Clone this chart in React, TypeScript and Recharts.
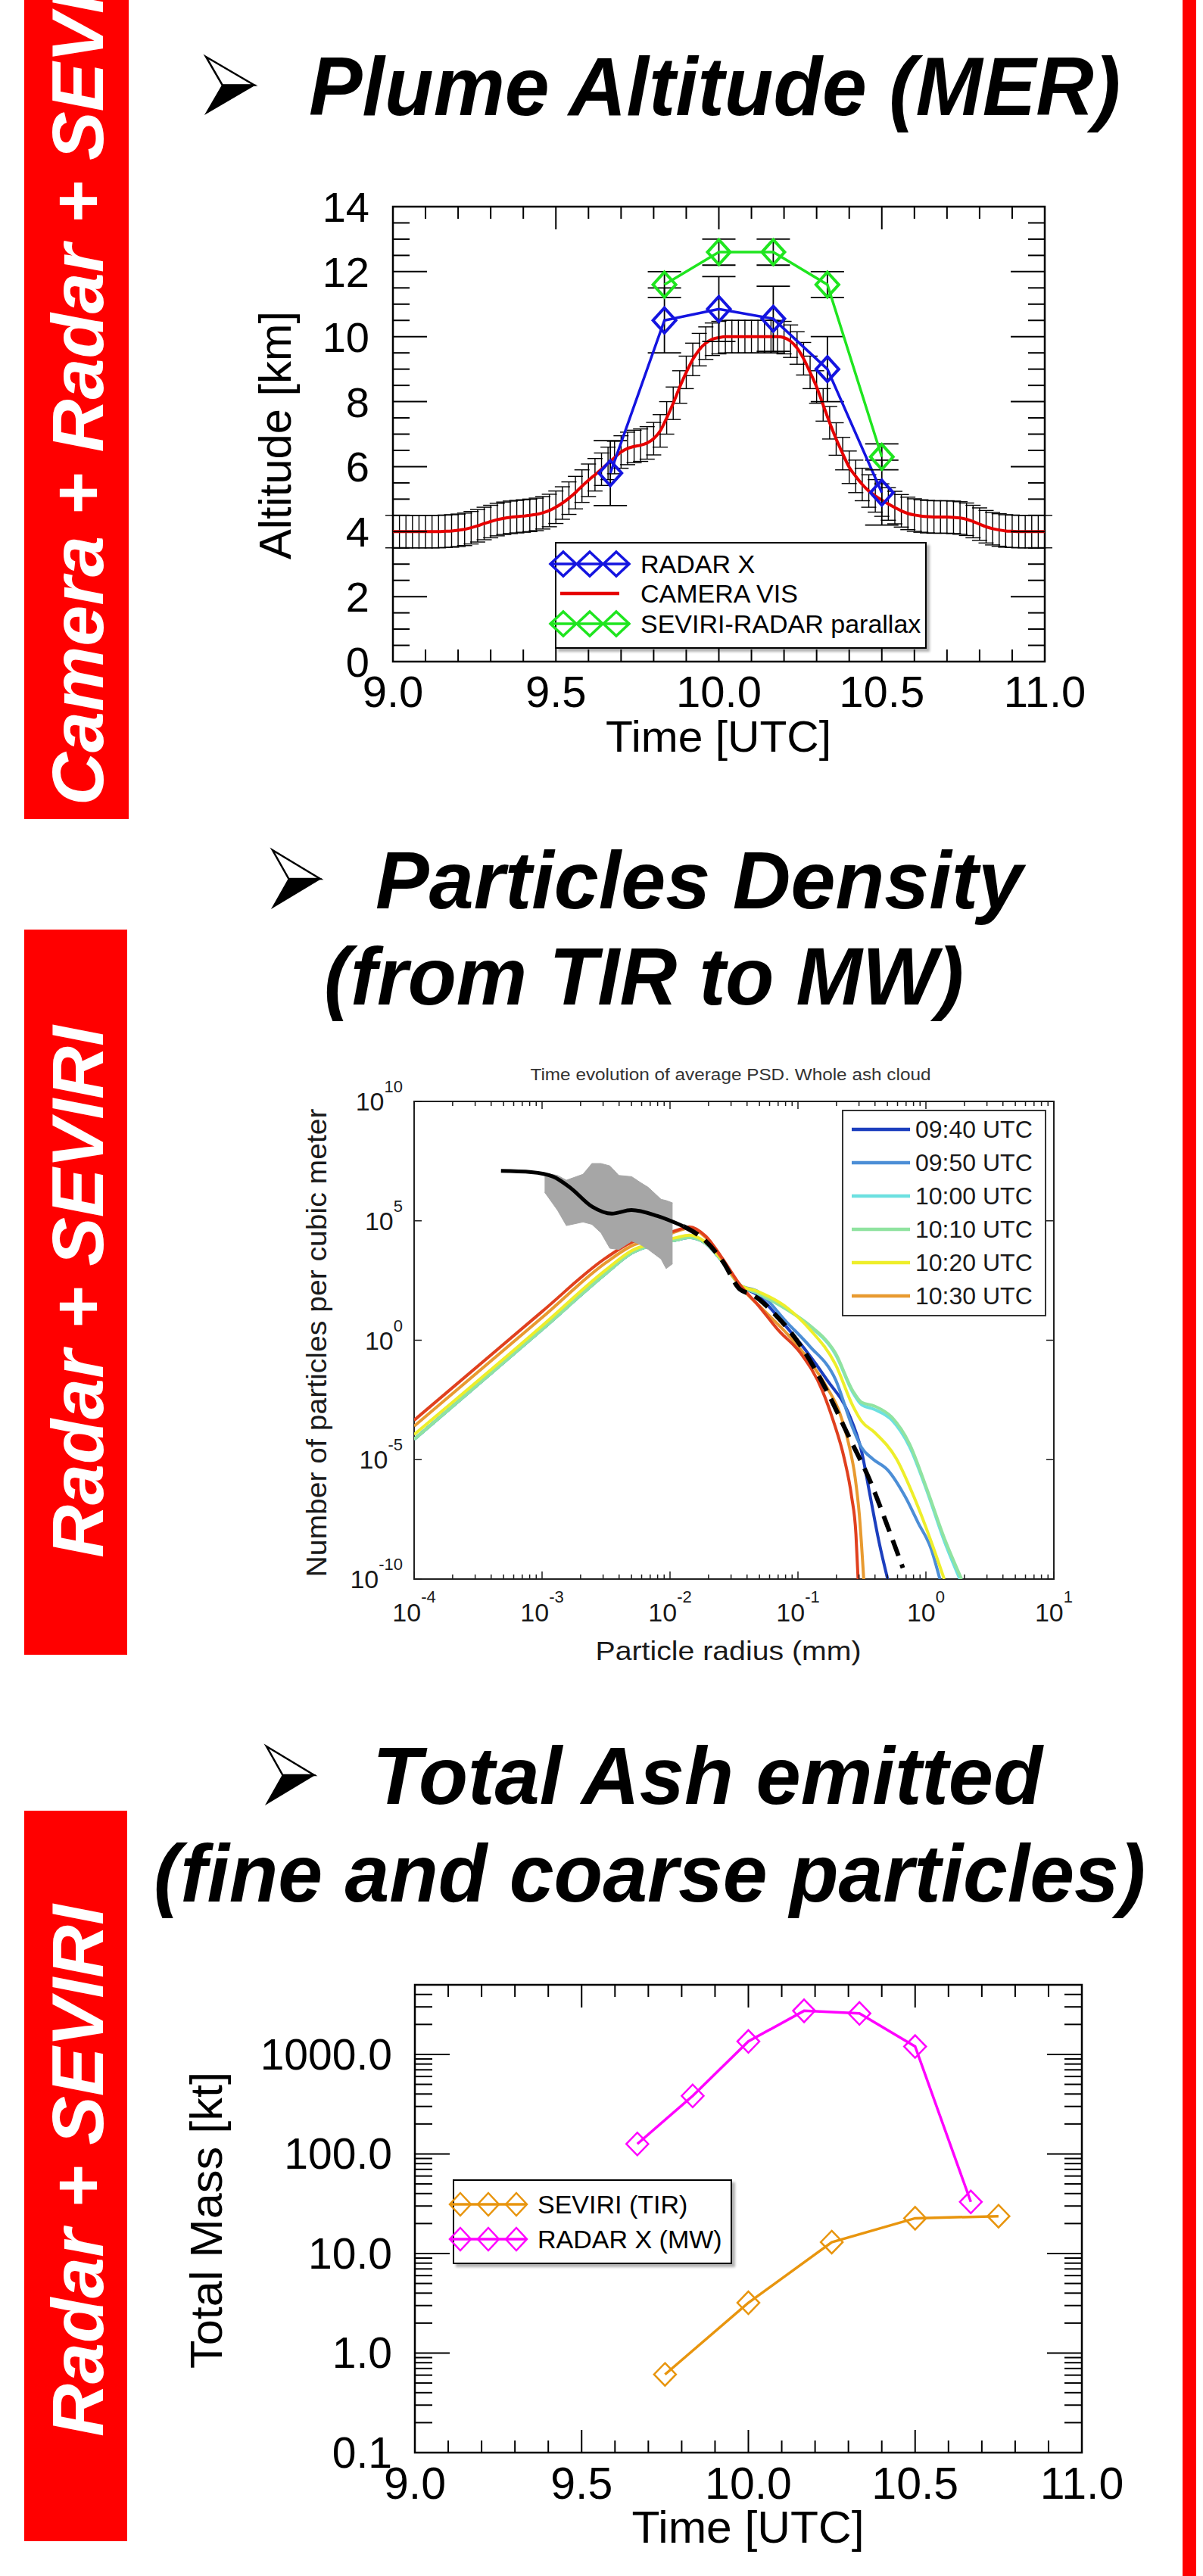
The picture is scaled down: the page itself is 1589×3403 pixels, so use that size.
import React from 'react';
import { ComposedChart, Line, Area, XAxis, YAxis, ErrorBar, ReferenceArea, Legend } from 'recharts';

const FONT = '"Liberation Sans", Arial, Helvetica, sans-serif';

/* ================= Chart 1 : Plume Altitude (MER) ================= */
const timeTicks = [9.0, 9.1, 9.2, 9.3, 9.4, 9.5, 9.6, 9.7, 9.8, 9.9, 10.0, 10.1, 10.2, 10.3, 10.4, 10.5, 10.6, 10.7, 10.8, 10.9, 11.0];
const timeLabels = [9.0, 9.5, 10.0, 10.5, 11.0];
const altValueTicks = [0, 0.5, 1, 1.5, 2, 2.5, 3, 3.5, 4, 4.5, 5, 5.5, 6, 6.5, 7, 7.5, 8, 8.5, 9, 9.5, 10, 10.5, 11, 11.5, 12, 12.5, 13, 13.5, 14];
const altValueLabels = [0, 2, 4, 6, 8, 10, 12, 14];

const radarXTimes = [9.667, 9.833, 10.0, 10.167, 10.333, 10.5];
const radarXAltitude = [5.8, 10.5, 10.85, 10.55, 9.0, 5.2];
const radarXError = [1.0, 1.0, 1.0, 1.0, 1.0, 1.0];

const parallaxTimes = [9.833, 10.0, 10.167, 10.333, 10.5];
const parallaxAltitude = [11.6, 12.6, 12.6, 11.6, 6.3];
const parallaxError = [0.4, 0.4, 0.4, 0.4, 0.4];

// CAMERA VIS altitude, one value every 0.02 h from 9.00 to 11.00 UTC
const cameraStart = 9.0;
const cameraStep = 0.02;
const cameraAltitude = [
  4.0, 4.0, 4.0, 4.0, 4.0, 4.0, 4.0, 4.0, 4.01, 4.02,
  4.04, 4.07, 4.12, 4.18, 4.25, 4.31, 4.37, 4.41, 4.44, 4.46,
  4.48, 4.5, 4.53, 4.58, 4.65, 4.75, 4.88, 5.03, 5.2, 5.4,
  5.58, 5.75, 5.92, 6.1, 6.28, 6.45, 6.56, 6.62, 6.66, 6.73,
  6.86, 7.1, 7.5, 7.95, 8.45, 8.9, 9.3, 9.6, 9.8, 9.92,
  9.97, 10.0, 10.0, 10.0, 10.0, 10.0, 10.0, 10.0, 10.0, 10.0,
  9.97, 9.86, 9.65, 9.32, 8.9, 8.45, 7.9, 7.35, 6.85, 6.4,
  5.98, 5.7, 5.45, 5.25, 5.1, 4.97, 4.85, 4.74, 4.64, 4.56,
  4.51, 4.48, 4.46, 4.45, 4.45, 4.45, 4.44, 4.42, 4.38, 4.31,
  4.23, 4.15, 4.09, 4.05, 4.02, 4.01, 4.0, 4.0, 4.0, 4.0,
  4.0,
];
const cameraError = 0.5;

const altLegendNames = ['RADAR X', 'CAMERA VIS', 'SEVIRI-RADAR parallax'];
const altLegendColors = ['#1414E0', '#E60000', '#1FE51F'];

/* ================= Chart 2 : Particles density ================= */
const psdDecades = [-4, -3, -2, -1, 0];
const psdMinorMult = [2, 3, 4, 5, 6, 7, 8, 9];
const psdYTicks = [1e-10, 1e-5, 1, 1e5, 1e10];

const psdNames = ['09:40 UTC', '09:50 UTC', '10:00 UTC', '10:10 UTC', '10:20 UTC', '10:30 UTC'];
const psdColors = ['#1C3FBE', '#4C8ED6', '#6CE0E0', '#90E3A0', '#EEEE2A', '#E89A30'];
const psdExtraColor = '#E0401E';

// log10(radius mm), log10(N)
const psd0940LogR = [-4, -3, -2.5, -2.3, -2.1, -1.95, -1.85, -1.72, -1.6, -1.45, -1.317, -1.114, -0.944, -0.774, -0.604, -0.503, -0.435, -0.367, -0.299];
const psd0940LogN = [-4.15, 0.45, 2.8, 3.65, 4.05, 4.2, 4.3, 4.05, 3.35, 2.3, 1.89, 0.71, -0.39, -1.65, -3.07, -4.65, -6.54, -8.43, -10];
const psd0950LogR = [-4, -3, -2.5, -2.3, -2.1, -1.95, -1.85, -1.72, -1.6, -1.45, -1.317, -1.08, -0.91, -0.706, -0.57, -0.503, -0.418, -0.299, -0.163, -0.061, 0.041, 0.109];
const psd0950LogN = [-4.15, 0.45, 2.8, 3.65, 4.05, 4.2, 4.3, 4.05, 3.35, 2.3, 2.05, 0.71, -0.24, -1.65, -3.7, -4.49, -4.96, -5.43, -6.54, -7.64, -8.74, -10];
const psd1000LogR = [-4, -3, -2.5, -2.3, -2.1, -1.95, -1.85, -1.72, -1.6, -1.45, -1.317, -1.08, -0.91, -0.706, -0.57, -0.503, -0.401, -0.265, -0.129, 0.007, 0.143, 0.265];
const psd1000LogN = [-4.15, 0.45, 2.8, 3.65, 4.05, 4.2, 4.3, 4.05, 3.35, 2.3, 1.97, 1.28, 0.6, -0.6, -2.2, -2.7, -2.9, -3.35, -4.45, -6.3, -8.4, -10];
const psd1010LogR = [-4, -3, -2.5, -2.3, -2.1, -1.95, -1.85, -1.72, -1.6, -1.45, -1.317, -1.08, -0.91, -0.706, -0.57, -0.503, -0.401, -0.265, -0.129, 0.007, 0.143, 0.279];
const psd1010LogN = [-4.15, 0.45, 2.8, 3.65, 4.05, 4.2, 4.3, 4.05, 3.35, 2.3, 1.97, 1.26, 0.63, -0.55, -2.13, -2.6, -2.76, -3.23, -4.33, -6.22, -8.27, -10];
const psd1020LogR = [-4, -3, -2.5, -2.3, -2.1, -1.95, -1.85, -1.72, -1.6, -1.45, -1.317, -1.08, -0.91, -0.706, -0.57, -0.503, -0.401, -0.231, -0.095, 0.041, 0.143];
const psd1020LogN = [-3.95, 0.6, 2.95, 3.75, 4.1, 4.3, 4.4, 4.1, 3.4, 2.3, 2.05, 1.34, 0.47, -1.02, -2.76, -3.39, -3.86, -4.96, -6.54, -8.43, -10];
const psd1030LogR = [-4, -3, -2.5, -2.3, -2.1, -1.95, -1.85, -1.72, -1.6, -1.45, -1.284, -1.08, -0.91, -0.774, -0.672, -0.604, -0.553, -0.52, -0.486];
const psd1030LogN = [-3.6, 0.95, 3.25, 3.95, 4.25, 4.55, 4.7, 4.3, 3.45, 2.25, 1.34, 0.24, -0.87, -1.97, -3.07, -4.33, -5.75, -7.32, -10];
const psdRedLogR = [-4, -3, -2.5, -2.3, -2.1, -1.95, -1.85, -1.72, -1.6, -1.45, -1.317, -1.148, -0.978, -0.808, -0.723, -0.638, -0.581, -0.547, -0.53];
const psdRedLogN = [-3.35, 1.2, 3.45, 4.1, 4.35, 4.6, 4.75, 4.35, 3.5, 2.3, 1.5, 0.39, -0.55, -2.13, -3.39, -4.96, -6.54, -8.11, -10];

const blackSolidLogR = [-3.321, -3.083, -2.913, -2.778, -2.608, -2.455, -2.302, -2.098, -1.895];
const blackSolidLogN = [7.09, 7.04, 6.85, 6.38, 5.59, 5.3, 5.45, 5.2, 4.77];
const blackDashLogR = [-1.895, -1.725, -1.589, -1.453, -1.351, -1.182, -0.978, -0.774, -0.604, -0.435, -0.299, -0.18];
const blackDashLogN = [4.77, 4.17, 3.31, 2.13, 1.89, 1.1, -0.24, -2.13, -4.02, -5.91, -7.8, -9.53];

const grayLogR = [-2.98, -2.88, -2.81, -2.68, -2.61, -2.54, -2.47, -2.4, -2.3, -2.23, -2.17, -2.07, -2.03, -1.98];
const grayLogLo = [6.2, 5.45, 4.8, 4.95, 4.85, 4.5, 3.85, 3.8, 4.15, 4.0, 3.8, 3.4, 3.0, 3.2];
const grayLogHi = [7.0, 6.9, 6.7, 6.95, 7.4, 7.4, 7.3, 6.9, 6.85, 6.6, 6.4, 5.9, 5.85, 5.75];

/* ================= Chart 3 : Total ash emitted ================= */
const massDecades = [0.1, 1, 10, 100, 1000];
const massMinorMult = [2, 3, 4, 5, 6, 7, 8, 9];
const massTop = 5000;

const seviriTimes = [9.75, 10.0, 10.25, 10.5, 10.75];
const seviriMass = [0.61, 3.2, 13, 22.6, 23.7];
const radarMassTimes = [9.667, 9.833, 10.0, 10.167, 10.333, 10.5, 10.667];
const radarMass = [126, 383, 1350, 2740, 2580, 1200, 33];

const massLegendNames = ['SEVIRI (TIR)', 'RADAR X (MW)'];
const massLegendColors = ['#E8950E', '#FF00FF'];

/* ================= helpers ================= */
const lg = (v: number) => Math.pow(10, v);
const pairs = (rs: number[], ns: number[]) => rs.map((r, i) => ({ r: lg(r), n: lg(ns[i]) }));

const diamondDot = (color: string, rx: number, ry: number, sw: number) => (p: any) => {
  const { cx, cy, index } = p;
  if (cx == null || cy == null) return <g key={`dd-${index}`} />;
  return (
    <polygon
      key={`dd-${index}`}
      points={`${cx},${cy - ry} ${cx + rx},${cy} ${cx},${cy + ry} ${cx - rx},${cy}`}
      fill="none"
      stroke={color}
      strokeWidth={sw}
    />
  );
};

const near = (a: number, b: number) => Math.abs(a - b) < 1e-6;

function timeTick(plotH: number, fontSize: number, labelDy: number) {
  return (p: any) => {
    const { x, y, payload } = p;
    const v = Number(payload.value);
    const major = timeLabels.some((m) => near(m, v));
    const len = major ? 30 : 16;
    return (
      <g>
        <line x1={x} y1={y} x2={x} y2={y - len} stroke="#000" strokeWidth={2} />
        <line x1={x} y1={y - plotH} x2={x} y2={y - plotH + len} stroke="#000" strokeWidth={2} />
        {major ? (
          <text x={x} y={y + labelDy} textAnchor="middle" fontFamily={FONT} fontSize={fontSize} fill="#000">
            {v.toFixed(1)}
          </text>
        ) : null}
      </g>
    );
  };
}

function altTick(plotW: number) {
  return (p: any) => {
    const { x, y, payload } = p;
    const v = Number(payload.value);
    const major = altValueLabels.some((m) => near(m, v));
    const len = major ? 45 : 22;
    return (
      <g>
        <line x1={x} y1={y} x2={x + len} y2={y} stroke="#000" strokeWidth={2} />
        <line x1={x + plotW} y1={y} x2={x + plotW - len} y2={y} stroke="#000" strokeWidth={2} />
        {major ? (
          <text x={x - 31} y={y + 20} textAnchor="end" fontFamily={FONT} fontSize={56} fill="#000">
            {String(v)}
          </text>
        ) : null}
      </g>
    );
  };
}

function massTick(plotW: number) {
  return (p: any) => {
    const { x, y, payload } = p;
    const v = Number(payload.value);
    const major = massDecades.some((m) => Math.abs(m - v) / m < 1e-6);
    const len = major ? 46 : 23;
    return (
      <g>
        <line x1={x} y1={y} x2={x + len} y2={y} stroke="#000" strokeWidth={2} />
        <line x1={x + plotW} y1={y} x2={x + plotW - len} y2={y} stroke="#000" strokeWidth={2} />
        {major ? (
          <text x={x - 30} y={y + 20} textAnchor="end" fontFamily={FONT} fontSize={57} fill="#000">
            {v.toFixed(1)}
          </text>
        ) : null}
      </g>
    );
  };
}

function psdXTick(plotH: number) {
  return (p: any) => {
    const { x, y, payload } = p;
    const v = Number(payload.value);
    const e = Math.log10(v);
    const major = Math.abs(e - Math.round(e)) < 1e-6;
    const len = major ? 10 : 6;
    return (
      <g>
        <line x1={x} y1={y} x2={x} y2={y - len} stroke="#1a1a1a" strokeWidth={1.5} />
        <line x1={x} y1={y - plotH} x2={x} y2={y - plotH + len} stroke="#1a1a1a" strokeWidth={1.5} />
        {major ? (
          <text x={x} y={y + 56} textAnchor="middle" fontFamily={FONT} fontSize={34} fill="#1a1a1a">
            <tspan>10</tspan>
            <tspan dy={-25} fontSize={22}>{String(Math.round(e))}</tspan>
          </text>
        ) : null}
      </g>
    );
  };
}

function psdYTick(plotW: number) {
  return (p: any) => {
    const { x, y, payload } = p;
    const v = Number(payload.value);
    const e = Math.round(Math.log10(v));
    return (
      <g>
        <line x1={x} y1={y} x2={x + 10} y2={y} stroke="#1a1a1a" strokeWidth={1.5} />
        <line x1={x + plotW} y1={y} x2={x + plotW - 10} y2={y} stroke="#1a1a1a" strokeWidth={1.5} />
        <text x={x - 15} y={y + 12} textAnchor="end" fontFamily={FONT} fontSize={34} fill="#1a1a1a">
          <tspan>10</tspan>
          <tspan dy={-24} fontSize={22}>{String(e)}</tspan>
        </text>
      </g>
    );
  };
}

/* ================= Chart 1 component ================= */
function AltitudeChart() {
  const plotW = 861;
  const plotH = 601;
  const radarData = radarXTimes.map((t, i) => ({ t, alt: radarXAltitude[i], err: radarXError[i] }));
  const parallaxData = parallaxTimes.map((t, i) => ({ t, alt: parallaxAltitude[i], err: parallaxError[i] }));
  const cameraData = cameraAltitude.map((a, i) => ({ t: cameraStart + i * cameraStep, alt: a, err: cameraError }));

  const legendContent = () => (
    <div style={{ position: 'relative', width: 491, height: 141, boxSizing: 'border-box', border: '2px solid #000', background: '#fff', boxShadow: '4px 4px 3px rgba(0,0,0,0.3)' }}>
      <svg width={491} height={141} style={{ position: 'absolute', left: -2, top: -2, overflow: 'visible' }}>
        {[29, 68, 108].map((cy, i) => (
          <g key={i}>
            {i === 1 ? (
              <line x1={7} x2={85} y1={cy} y2={cy} stroke={altLegendColors[i]} strokeWidth={4.5} />
            ) : (
              <g>
                <line x1={-7} x2={99} y1={cy} y2={cy} stroke={altLegendColors[i]} strokeWidth={3.5} />
                {[11, 46, 81].map((cx) => (
                  <polygon key={cx} points={`${cx},${cy - 16} ${cx + 17},${cy} ${cx},${cy + 16} ${cx - 17},${cy}`} fill="none" stroke={altLegendColors[i]} strokeWidth={3.5} />
                ))}
              </g>
            )}
            <text x={113} y={cy + 12} fontFamily={FONT} fontSize={34} fill="#000">{altLegendNames[i]}</text>
          </g>
        ))}
      </svg>
    </div>
  );

  return (
    <div style={{ position: 'absolute', left: 380, top: 230 }}>
      <ComposedChart width={1120} height={790} margin={{ top: 43, right: 120, bottom: 46, left: 39 }}>
        <XAxis dataKey="t" type="number" domain={[9, 11]} allowDataOverflow ticks={timeTicks} interval={0}
          height={100} tickSize={0} tickMargin={0} axisLine={false} tickLine={false} tick={timeTick(plotH, 58, 60)} />
        <YAxis type="number" domain={[0, 14]} allowDataOverflow ticks={altValueTicks} interval={0}
          width={100} tickSize={0} tickMargin={0} axisLine={false} tickLine={false} tick={altTick(plotW)} />
        <ReferenceArea x1={9} x2={11} y1={0} y2={14} fill="none" stroke="#000" strokeWidth={2.5} fillOpacity={0} />
        <Line data={cameraData} dataKey="alt" stroke="none" dot={false} isAnimationActive={false} legendType="none">
          <ErrorBar dataKey="err" width={10} stroke="#000" strokeWidth={1.4} direction="y" isAnimationActive={false} />
        </Line>
        <Line data={cameraData} dataKey="alt" name="CAMERA VIS" type="monotone" stroke="#E60000" strokeWidth={4} dot={false} isAnimationActive={false} />
        <Line data={radarData} dataKey="alt" name="RADAR X" type="linear" stroke="#1414E0" strokeWidth={3.5}
          dot={diamondDot('#1414E0', 15, 16.5, 4)} isAnimationActive={false}>
          <ErrorBar dataKey="err" width={22} stroke="#000" strokeWidth={1.8} direction="y" isAnimationActive={false} />
        </Line>
        <Line data={parallaxData} dataKey="alt" name="SEVIRI-RADAR parallax" type="linear" stroke="#1FE51F" strokeWidth={3.5}
          dot={diamondDot('#1FE51F', 15, 16.5, 4)} isAnimationActive={false}>
          <ErrorBar dataKey="err" width={22} stroke="#000" strokeWidth={1.8} direction="y" isAnimationActive={false} />
        </Line>
        <Legend layout="vertical" align="center" verticalAlign="middle" content={legendContent}
          wrapperStyle={{ position: 'absolute', left: 353, top: 486, width: 491, height: 141 }} />
      </ComposedChart>
    </div>
  );
}

/* ================= Chart 2 component ================= */
function PsdChart() {
  const plotW = 845;
  const plotH = 631;
  const xTicks: number[] = [];
  psdDecades.forEach((d) => {
    xTicks.push(lg(d));
    psdMinorMult.forEach((m) => xTicks.push(m * lg(d)));
  });
  xTicks.push(10);

  const grayData = grayLogR.map((r, i) => ({ r: lg(r), range: [lg(grayLogLo[i]), lg(grayLogHi[i])] }));
  const series = [
    { d: pairs(psd0940LogR, psd0940LogN), c: psdColors[0], n: psdNames[0] },
    { d: pairs(psd0950LogR, psd0950LogN), c: psdColors[1], n: psdNames[1] },
    { d: pairs(psd1000LogR, psd1000LogN), c: psdColors[2], n: psdNames[2] },
    { d: pairs(psd1010LogR, psd1010LogN), c: psdColors[3], n: psdNames[3] },
    { d: pairs(psd1020LogR, psd1020LogN), c: psdColors[4], n: psdNames[4] },
    { d: pairs(psd1030LogR, psd1030LogN), c: psdColors[5], n: psdNames[5] },
  ];
  const redData = pairs(psdRedLogR, psdRedLogN);

  const legendContent = () => (
    <div style={{ position: 'relative', width: 270, height: 273, boxSizing: 'border-box', border: '2px solid #333', background: '#fff' }}>
      <svg width={270} height={273} style={{ position: 'absolute', left: -2, top: -2, overflow: 'visible' }}>
        {psdNames.map((nm, i) => {
          const cy = 26 + i * 44;
          return (
            <g key={nm}>
              <line x1={13} x2={90} y1={cy} y2={cy} stroke={psdColors[i]} strokeWidth={4.5} />
              <text x={97} y={cy + 11} fontFamily={FONT} fontSize={32} fill="#1a1a1a">{nm}</text>
            </g>
          );
        })}
      </svg>
    </div>
  );

  return (
    <div style={{ position: 'absolute', left: 400, top: 1380 }}>
      <ComposedChart width={1080} height={860} data={grayData} margin={{ top: 75, right: 88, bottom: 74, left: 47 }}>
        <XAxis dataKey="r" type="number" scale="log" domain={[1e-4, 10]} allowDataOverflow ticks={xTicks} interval={0}
          height={80} tickSize={0} tickMargin={0} axisLine={false} tickLine={false} tick={psdXTick(plotH)} />
        <YAxis type="number" scale="log" domain={[1e-10, 1e10]} allowDataOverflow ticks={psdYTicks} interval={0}
          width={100} tickSize={0} tickMargin={0} axisLine={false} tickLine={false} tick={psdYTick(plotW)} />
        <ReferenceArea x1={1e-4} x2={10} y1={1e-10} y2={1e10} fill="none" fillOpacity={0} stroke="#222" strokeWidth={2} />
        {series.map((s) => (
          <Line key={s.n} data={s.d} dataKey="n" name={s.n} type="monotone" stroke={s.c} strokeWidth={4} dot={false} isAnimationActive={false} />
        ))}
        <Line data={redData} dataKey="n" name="extra" legendType="none" type="monotone" stroke={psdExtraColor} strokeWidth={4} dot={false} isAnimationActive={false} />
        <Area dataKey="range" type="linear" fill="#A6A6A6" fillOpacity={1} stroke="#A6A6A6" strokeWidth={1} isAnimationActive={false} legendType="none" zIndex={450} />
        <Line data={pairs(blackSolidLogR, blackSolidLogN)} dataKey="n" type="monotone" stroke="#000" strokeWidth={5} dot={false} isAnimationActive={false} legendType="none" zIndex={460} />
        <Line data={pairs(blackDashLogR, blackDashLogN)} dataKey="n" type="monotone" stroke="#000" strokeWidth={6} strokeDasharray="22 12" dot={false} isAnimationActive={false} legendType="none" zIndex={470} />
        <Legend layout="vertical" align="center" verticalAlign="middle" content={legendContent}
          wrapperStyle={{ position: 'absolute', left: 712, top: 86, width: 270, height: 273 }} />
      </ComposedChart>
    </div>
  );
}

/* ================= Chart 3 component ================= */
function MassChart() {
  const plotW = 881;
  const plotH = 618;
  const yTicks: number[] = [];
  massDecades.forEach((d) => {
    yTicks.push(d);
    massMinorMult.forEach((m) => {
      const v = m * d;
      if (v < massTop) yTicks.push(v);
    });
  });
  yTicks.push(massTop);
  const seviriData = seviriTimes.map((t, i) => ({ t, m: seviriMass[i] }));
  const radarData = radarMassTimes.map((t, i) => ({ t, m: radarMass[i] }));

  const legendContent = () => (
    <div style={{ position: 'relative', width: 369, height: 112, boxSizing: 'border-box', border: '2px solid #000', background: '#fff', boxShadow: '4px 4px 3px rgba(0,0,0,0.3)' }}>
      <svg width={369} height={112} style={{ position: 'absolute', left: -2, top: -2, overflow: 'visible' }}>
        {[33, 79].map((cy, i) => (
          <g key={i}>
            <line x1={-4} x2={98} y1={cy} y2={cy} stroke={massLegendColors[i]} strokeWidth={3.5} />
            {[10, 47, 84].map((cx) => (
              <polygon key={cx} points={`${cx},${cy - 15} ${cx + 14},${cy} ${cx},${cy + 15} ${cx - 14},${cy}`} fill="none" stroke={massLegendColors[i]} strokeWidth={2.5} />
            ))}
            <text x={112} y={cy + 12} fontFamily={FONT} fontSize={34} fill="#000">{massLegendNames[i]}</text>
          </g>
        ))}
      </svg>
    </div>
  );

  return (
    <div style={{ position: 'absolute', left: 300, top: 2560 }}>
      <ComposedChart width={1240} height={840} margin={{ top: 62, right: 111, bottom: 60, left: 128 }}>
        <XAxis dataKey="t" type="number" domain={[9, 11]} allowDataOverflow ticks={timeTicks} interval={0}
          height={100} tickSize={0} tickMargin={0} axisLine={false} tickLine={false} tick={timeTick(plotH, 59, 61)} />
        <YAxis type="number" scale="log" domain={[0.1, massTop]} allowDataOverflow ticks={yTicks} interval={0}
          width={120} tickSize={0} tickMargin={0} axisLine={false} tickLine={false} tick={massTick(plotW)} />
        <ReferenceArea x1={9} x2={11} y1={0.1} y2={massTop} fill="none" fillOpacity={0} stroke="#000" strokeWidth={2.5} />
        <Line data={seviriData} dataKey="m" name="SEVIRI (TIR)" type="linear" stroke="#E8950E" strokeWidth={3.5}
          dot={diamondDot('#E8950E', 14.5, 15, 2.5)} isAnimationActive={false} />
        <Line data={radarData} dataKey="m" name="RADAR X (MW)" type="linear" stroke="#FF00FF" strokeWidth={3.5}
          dot={diamondDot('#FF00FF', 14.5, 15, 2.5)} isAnimationActive={false} />
        <Legend layout="vertical" align="center" verticalAlign="middle" content={legendContent}
          wrapperStyle={{ position: 'absolute', left: 298, top: 319, width: 369, height: 112 }} />
      </ComposedChart>
    </div>
  );
}

/* ================= Page decorations ================= */
function Arrow({ x0, y0, x1, y1 }: { x0: number; y0: number; x1: number; y1: number }) {
  const ym = (y0 + y1) / 2;
  const nx = x0 + (x1 - x0) * 0.34;
  return (
    <g>
      <polygon points={`${x0},${y0} ${x1},${ym} ${nx},${ym}`} fill="#fff" stroke="#000" strokeWidth={2.5} strokeLinejoin="miter" />
      <polygon points={`${nx},${ym} ${x1},${ym} ${x0},${y1}`} fill="#000" stroke="#000" strokeWidth={1.5} />
    </g>
  );
}

const titleStyle = { fontFamily: FONT, fontWeight: 700, fontStyle: 'italic' as const };

function Decorations() {
  return (
    <svg width={1589} height={3403} style={{ position: 'absolute', left: 0, top: 0 }}>
      {/* side bars */}
      <rect x={32} y={-10} width={138} height={1092} fill="#FF0000" />
      <rect x={32} y={1228} width={136} height={958} fill="#FF0000" />
      <rect x={32} y={2392} width={136} height={965} fill="#FF0000" />
      <rect x={1562} y={0} width={18} height={3403} fill="#FF0000" />
      <text transform="translate(136,1064) rotate(-90)" fill="#fff" fontSize={97} {...titleStyle}>Camera + Radar + SEVIRI</text>
      <text transform="translate(136,2058) rotate(-90)" fill="#fff" fontSize={97} textLength={703} lengthAdjust="spacingAndGlyphs" {...titleStyle}>Radar + SEVIRI</text>
      <text transform="translate(136,3219) rotate(-90)" fill="#fff" fontSize={97} textLength={703} lengthAdjust="spacingAndGlyphs" {...titleStyle}>Radar + SEVIRI</text>

      {/* titles */}
      <Arrow x0={272} y0={75} x1={336} y1={150} />
      <text x={408} y={152} fontSize={110} textLength={1072} lengthAdjust="spacingAndGlyphs" {...titleStyle}>Plume Altitude (MER)</text>

      <Arrow x0={360} y0={1123} x1={423} y1={1199} />
      <text x={496} y={1200} fontSize={107} textLength={855} lengthAdjust="spacingAndGlyphs" {...titleStyle}>Particles Density</text>
      <text x={428} y={1327} fontSize={107} textLength={845} lengthAdjust="spacingAndGlyphs" {...titleStyle}>(from TIR to MW)</text>

      <Arrow x0={352} y0={2307} x1={415} y1={2383} />
      <text x={492} y={2383} fontSize={107} textLength={885} lengthAdjust="spacingAndGlyphs" {...titleStyle}>Total Ash emitted</text>
      <text x={203} y={2512} fontSize={107} textLength={1310} lengthAdjust="spacingAndGlyphs" {...titleStyle}>(fine and coarse particles)</text>

      {/* axis titles chart 1 */}
      <text transform="translate(384,575) rotate(-90)" textAnchor="middle" fontFamily={FONT} fontSize={60} textLength={328} lengthAdjust="spacingAndGlyphs">Altitude [km]</text>
      <text x={949} y={993} textAnchor="middle" fontFamily={FONT} fontSize={58} textLength={298} lengthAdjust="spacingAndGlyphs">Time [UTC]</text>

      {/* chart 2 texts */}
      <text x={965} y={1427} textAnchor="middle" fontFamily={FONT} fontSize={22} fill="#333" textLength={529} lengthAdjust="spacingAndGlyphs">Time evolution of average PSD. Whole ash cloud</text>
      <text transform="translate(431,1774) rotate(-90)" textAnchor="middle" fontFamily={FONT} fontSize={37} fill="#1a1a1a" textLength={619} lengthAdjust="spacingAndGlyphs">Number of particles per cubic meter</text>
      <text x={962} y={2193} textAnchor="middle" fontFamily={FONT} fontSize={35} fill="#1a1a1a" textLength={351} lengthAdjust="spacingAndGlyphs">Particle radius (mm)</text>

      {/* axis titles chart 3 */}
      <text transform="translate(293,2933) rotate(-90)" textAnchor="middle" fontFamily={FONT} fontSize={60} textLength={392} lengthAdjust="spacingAndGlyphs">Total Mass [kt]</text>
      <text x={988} y={3359} textAnchor="middle" fontFamily={FONT} fontSize={60} textLength={307} lengthAdjust="spacingAndGlyphs">Time [UTC]</text>
    </svg>
  );
}

export default function App() {
  return (
    <div style={{ position: 'absolute', left: 0, top: 0, width: 1589, height: 3403, background: '#fff', overflow: 'hidden', fontFamily: FONT }}>
      <Decorations />
      <AltitudeChart />
      <PsdChart />
      <MassChart />
    </div>
  );
}
